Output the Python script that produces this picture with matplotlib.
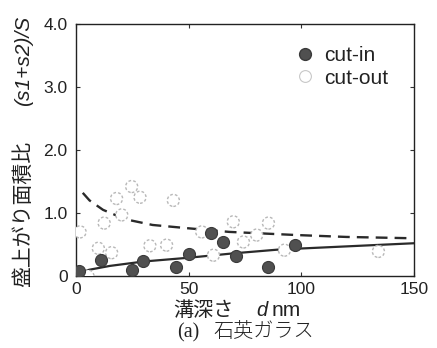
import matplotlib
matplotlib.use("Agg")
import matplotlib.pyplot as plt
from matplotlib.lines import Line2D

# ---- data ----
cut_in_x = [1.5, 11, 25, 29.6, 44.4, 50, 60, 65.4, 71, 85, 97.2]
cut_in_y = [0.08, 0.25, 0.10, 0.24, 0.15, 0.35, 0.68, 0.54, 0.32, 0.15, 0.49]

cut_out_x = [5.3, 1.8, 9.9, 12.5, 15.8, 18, 20.3, 24.7, 28.4, 32.8, 40.2, 43.2,
             55.8, 61, 69.8, 74.3, 80.2, 85.4, 92.5, 134.2]
cut_out_y = [0.0, 0.70, 0.44, 0.84, 0.37, 1.23, 0.97, 1.42, 1.25, 0.48, 0.49, 1.20,
             0.70, 0.33, 0.86, 0.54, 0.65, 0.84, 0.41, 0.39]

fit_in_x = [3, 6, 15, 30, 50, 70, 90, 120, 150]
fit_in_y = [0.07, 0.10, 0.16, 0.23, 0.29, 0.36, 0.42, 0.47, 0.52]

fit_out_x = [3, 6, 12, 22, 34, 49, 68, 98, 120, 148]
fit_out_y = [1.32, 1.20, 1.05, 0.90, 0.81, 0.76, 0.70, 0.65, 0.62, 0.60]

x_ticks = [0, 50, 100, 150]
x_ticklabels = ["0", "50", "100", "150"]
y_ticks = [0, 1, 2, 3, 4]
y_ticklabels = ["0", "1.0", "2.0", "3.0", "4.0"]

series_labels = ["cut-in", "cut-out"]
xlabel_jp = "溝深さ"
xlabel_var = "d"
xlabel_unit = "nm"
ylabel_jp = "盛上がり面積比"
ylabel_expr = "(s1+s2)/S"
caption_a = "(a)"
caption_jp = "石英ガラス"

# ---- figure ----
W, H = 437, 348
fig = plt.figure(figsize=(W / 100, H / 100), dpi=100)
fig.patch.set_facecolor("white")
ax = fig.add_axes([76 / W, 1 - 276 / H, (414 - 76) / W, (276 - 24) / H])

latin = ["Liberation Sans", "DejaVu Sans"]
cjk = ["Noto Sans CJK JP", "DejaVu Sans"]

ax.plot(fit_out_x, fit_out_y, color="#2a2a2a", lw=1.7, ls=(0, (5, 3)), zorder=2)
ax.plot(fit_in_x, fit_in_y, color="#2a2a2a", lw=1.6, zorder=2)

ax.scatter(cut_out_x, cut_out_y, s=75, facecolor="white", edgecolor="#b8b8b8",
           linewidths=1.0, linestyle=(0, (2, 1.5)), zorder=3)
ax.scatter(cut_in_x, cut_in_y, s=75, facecolor="#505050", edgecolor="#3a3a3a",
           linewidths=0.8, zorder=4)

ax.set_xlim(0, 150)
ax.set_ylim(0, 4.0)
ax.set_xticks(x_ticks)
ax.set_xticklabels(x_ticklabels, fontfamily=latin, fontsize=12.5)
ax.set_yticks(y_ticks)
ax.set_yticklabels(y_ticklabels, fontfamily=latin, fontsize=12.5)
ax.tick_params(direction="in", length=3, width=0.8, top=True, right=True,
               colors="#333333", labelcolor="#222222")
ax.tick_params(axis="y", pad=6)
ax.tick_params(axis="x", pad=4)
for sp in ax.spines.values():
    sp.set_linewidth(1.0)
    sp.set_color("#222222")

handles = [
    Line2D([], [], ls="none", marker="o", markersize=8.5, markerfacecolor="#505050",
           markeredgecolor="#3a3a3a"),
    Line2D([], [], ls="none", marker="o", markersize=8.5, markerfacecolor="white",
           markeredgecolor="#c8c8c8", markeredgewidth=0.8),
]
leg = ax.legend(handles, series_labels, loc="upper left",
                bbox_to_anchor=((282 - 76) / 338, (276 - 36) / 252),
                frameon=False, prop={"family": latin, "size": 15},
                handletextpad=0.3, labelspacing=0.15, borderpad=0, handlelength=1.2)
for t in leg.get_texts():
    t.set_color("#222222")

def fx(px):
    return px / W

def fy(py):
    return 1 - py / H

# x label pieces
fig.text(fx(173), fy(316), xlabel_jp, fontfamily=cjk, fontsize=14.5, ha="left",
         va="baseline", color="#222222")
fig.text(fx(256), fy(316), xlabel_var, fontfamily=latin, fontsize=14.5, style="italic",
         ha="left", va="baseline", color="#222222")
fig.text(fx(272), fy(316), xlabel_unit, fontfamily=latin, fontsize=15, ha="left",
         va="baseline", color="#222222")

# y label pieces
fig.text(fx(23), fy(214), ylabel_jp, fontfamily=cjk, fontsize=15, rotation=90,
         ha="center", va="center", color="#222222")
fig.text(fx(24), fy(61), ylabel_expr, fontfamily=latin, fontsize=15, style="italic",
         rotation=90, ha="center", va="center", color="#222222")

# caption
fig.text(fx(177), fy(337), caption_a, fontfamily=["Liberation Serif"], fontsize=14.5,
         ha="left", va="baseline", color="#222222")
fig.text(fx(213), fy(337), caption_jp, fontfamily=cjk, fontsize=14.5, ha="left",
         va="baseline", color="#222222", fontweight="light")

fig.savefig("out.png", dpi=100, facecolor="white")
